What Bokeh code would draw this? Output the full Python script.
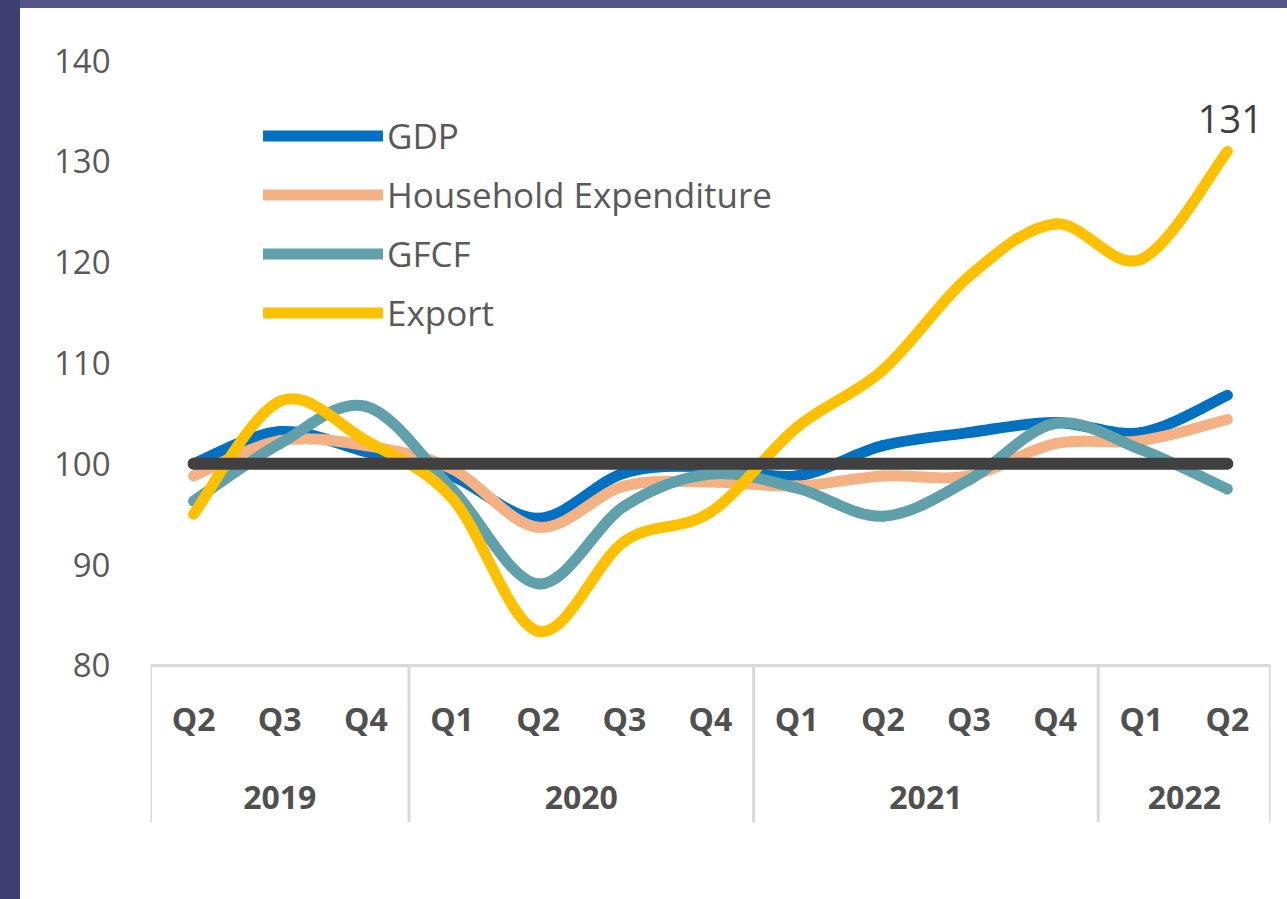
from bokeh.plotting import figure
from bokeh.models import Range1d, FixedTicker, Legend, LegendItem, ColumnDataSource, Div
from bokeh.layouts import row, column
from bokeh.core.properties import value
from bokeh.embed import file_html
from bokeh.resources import INLINE

# ---------------- data ----------------
years = ["2019", "2019", "2019", "2020", "2020", "2020", "2020",
         "2021", "2021", "2021", "2021", "2022", "2022"]
quarters = ["Q2", "Q3", "Q4", "Q1", "Q2", "Q3", "Q4",
            "Q1", "Q2", "Q3", "Q4", "Q1", "Q2"]
gdp = [100.0, 103.2, 101.2, 98.8, 94.6, 99.1, 99.7, 98.8, 101.8, 103.1, 104.1, 103.1, 106.8]
household = [98.8, 102.3, 101.8, 99.5, 93.7, 97.8, 98.2, 97.8, 98.8, 98.8, 102.0, 102.3, 104.4]
gfcf = [96.3, 102.0, 105.7, 97.5, 88.1, 95.8, 99.0, 97.6, 94.8, 98.4, 104.0, 101.4, 97.5]
export = [95.0, 106.2, 102.3, 96.6, 83.4, 92.3, 95.2, 103.6, 109.3, 118.6, 123.8, 120.3, 131.0]
baseline = [100.0] * len(quarters)
series_names = ["GDP", "Household Expenditure", "GFCF", "Export"]
y_ticks = [80, 90, 100, 110, 120, 130, 140]

# ---------------- styles ----------------
colors = ["#0070C0", "#F4B183", "#5FA0AA", "#FFC000"]
FONT = "Open Sans"
GRAY = "#595959"
AXIS_GRAY = "#D9D9D9"
DARK_BG = "#3f3e72"

n = len(quarters)
xs = list(range(n))

Y_BOTTOM, Y_TOP = 64.42, 143.98

p = figure(width=1259, height=883, output_backend="svg", toolbar_location=None,
           x_range=Range1d(-0.5, n - 0.5), y_range=Range1d(Y_BOTTOM, Y_TOP),
           x_axis_location=None,
           min_border_left=130, min_border_right=9, min_border_top=12, min_border_bottom=69)
p.outline_line_color = None
p.xgrid.visible = False
p.ygrid.visible = False
p.background_fill_color = "white"
p.border_fill_color = "white"

yax = p.yaxis[0]
yax.ticker = FixedTicker(ticks=y_ticks)
yax.axis_line_color = None
yax.major_tick_line_color = None
yax.minor_tick_line_color = None
yax.major_label_standoff = 34
yax.major_label_text_font = FONT
yax.major_label_text_font_size = "33px"
yax.major_label_text_color = GRAY


def smooth(vals):
    """Bezier control points (Catmull-Rom style, like Excel's smoothed line)."""
    x0, y0, x1, y1, cx0, cy0, cx1, cy1 = [], [], [], [], [], [], [], []
    m = len(vals)
    for i in range(m - 1):
        ip = max(i - 1, 0)
        inn = min(i + 2, m - 1)
        x0.append(i); y0.append(vals[i])
        x1.append(i + 1); y1.append(vals[i + 1])
        cx0.append(i + (i + 1 - ip) / 6.0)
        cy0.append(vals[i] + (vals[i + 1] - vals[ip]) / 6.0)
        cx1.append(i + 1 - (inn - i) / 6.0)
        cy1.append(vals[i + 1] - (vals[inn] - vals[i]) / 6.0)
    return ColumnDataSource(dict(x0=x0, y0=y0, x1=x1, y1=y1, cx0=cx0, cy0=cy0, cx1=cx1, cy1=cy1))


# axis frame: horizontal line at the lowest tick, separators between years
group_edges = [-0.5]
for i in range(1, n):
    if years[i] != years[i - 1]:
        group_edges.append(i - 0.5)
group_edges.append(n - 0.5)

p.segment(x0=[-0.5], y0=[y_ticks[0]], x1=[n - 0.5], y1=[y_ticks[0]],
          line_color=AXIS_GRAY, line_width=3)
p.segment(x0=group_edges, y0=[y_ticks[0]] * len(group_edges),
          x1=group_edges, y1=[Y_BOTTOM] * len(group_edges),
          line_color=AXIS_GRAY, line_width=3)

# quarter and year labels
p.text(x=xs, y=[74.74] * n, text=quarters, text_align="center", text_baseline="middle",
       text_font=value(FONT), text_font_size="32px", text_font_style="bold",
       text_color="#505050")
year_names, year_centers = [], []
for yname in dict.fromkeys(years):
    idx = [i for i, yv in enumerate(years) if yv == yname]
    year_names.append(yname)
    year_centers.append(sum(idx) / len(idx))
p.text(x=year_centers, y=[66.9] * len(year_names), text=year_names,
       text_align="center", text_baseline="middle",
       text_font=value(FONT), text_font_size="32px", text_font_style="bold",
       text_color="#505050")

# series
renderers = []
for vals, col in zip([gdp, household, gfcf, export], colors):
    r = p.bezier(x0="x0", y0="y0", x1="x1", y1="y1", cx0="cx0", cy0="cy0",
                 cx1="cx1", cy1="cy1", source=smooth(vals),
                 line_color=col, line_width=11, line_cap="round")
    renderers.append(r)

# baseline at 100
p.line(x=xs, y=baseline, line_color="#404040", line_width=12, line_cap="round")

# last export value label
p.text(x=[xs[-1]], y=[export[-1]], text=[f"{export[-1]:.0f}"], text_align="center",
       text_baseline="middle", x_offset=3, y_offset=-32, text_font=value(FONT),
       text_font_size="38px", text_color="#404040")

legend = Legend(items=[LegendItem(label=nm, renderers=[r]) for nm, r in zip(series_names, renderers)],
                location=(113, 486), orientation="vertical",
                glyph_width=120, glyph_height=47, label_height=47, label_standoff=4,
                spacing=12, padding=0, margin=0,
                border_line_color=None, background_fill_alpha=0,
                label_text_font=FONT, label_text_font_size="35px",
                label_text_color=GRAY)
p.add_layout(legend)

left_strip = Div(text="", width=20, height=899, margin=0,
                 styles={"background-color": DARK_BG})
top_strip = Div(text="", width=1267, height=8, margin=0,
                styles={"background-color": "#55558a"})
page = row(left_strip, column(top_strip, p, spacing=0), spacing=0)

open("out.html", "w").write(file_html(page, INLINE))
